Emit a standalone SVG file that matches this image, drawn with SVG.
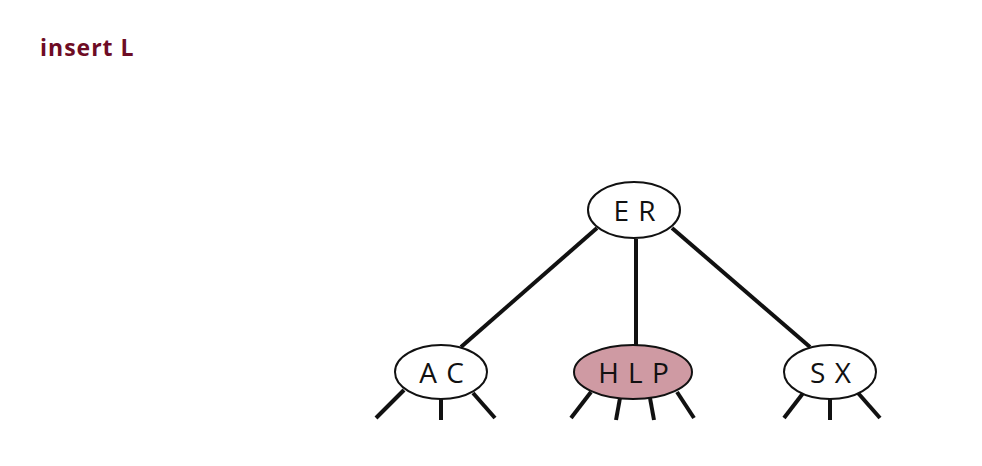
<svg xmlns="http://www.w3.org/2000/svg" width="982" height="466" viewBox="0 0 982 466">
<style>
.node{fill:#fff;stroke:#111;stroke-width:2}
.hl{fill:#cf9aa3}
.lbl{font-family:"Open Sans","Liberation Sans",sans-serif;font-size:28px;fill:#111;text-anchor:middle;dominant-baseline:central;letter-spacing:1px}
.edge{stroke:#111;stroke-width:4;stroke-linecap:butt;fill:none}
.title{font-family:"Open Sans","Liberation Sans",sans-serif;font-weight:bold;font-size:23px;fill:#6e0c25;letter-spacing:1px}
</style>
<rect width="982" height="466" fill="#fff"/>
<text class="title" x="40" y="56">insert L</text>
<g id="connectors">
<line class="edge" x1="597" y1="228" x2="461" y2="347"/>
<line class="edge" x1="636" y1="239" x2="636" y2="345"/>
<line class="edge" x1="672" y1="228" x2="810" y2="347"/>
<line class="edge" x1="404" y1="390" x2="376" y2="418"/>
<line class="edge" x1="441" y1="399" x2="441" y2="420"/>
<line class="edge" x1="473" y1="393" x2="495" y2="418"/>
<line class="edge" x1="591" y1="392" x2="571" y2="418"/>
<line class="edge" x1="620" y1="398" x2="616" y2="420"/>
<line class="edge" x1="650" y1="398" x2="654" y2="420"/>
<line class="edge" x1="677" y1="392" x2="694" y2="418"/>
<line class="edge" x1="804" y1="392" x2="784" y2="418"/>
<line class="edge" x1="830" y1="399" x2="830" y2="420"/>
<line class="edge" x1="858" y1="393" x2="880" y2="418"/>
</g>
<g id="node-ER">
<ellipse class="node" cx="634" cy="210" rx="46" ry="28"/>
<text class="lbl" x="635" y="210">E R</text>
</g>
<g id="node-AC">
<ellipse class="node" cx="441" cy="372" rx="46" ry="27"/>
<text class="lbl" x="442" y="372">A C</text>
</g>
<g id="node-HLP">
<ellipse class="node hl" cx="633" cy="372" rx="59" ry="27"/>
<text class="lbl" x="634" y="372">H L P</text>
</g>
<g id="node-SX">
<ellipse class="node" cx="830" cy="372" rx="46" ry="27"/>
<text class="lbl" x="831" y="372">S X</text>
</g>
</svg>
